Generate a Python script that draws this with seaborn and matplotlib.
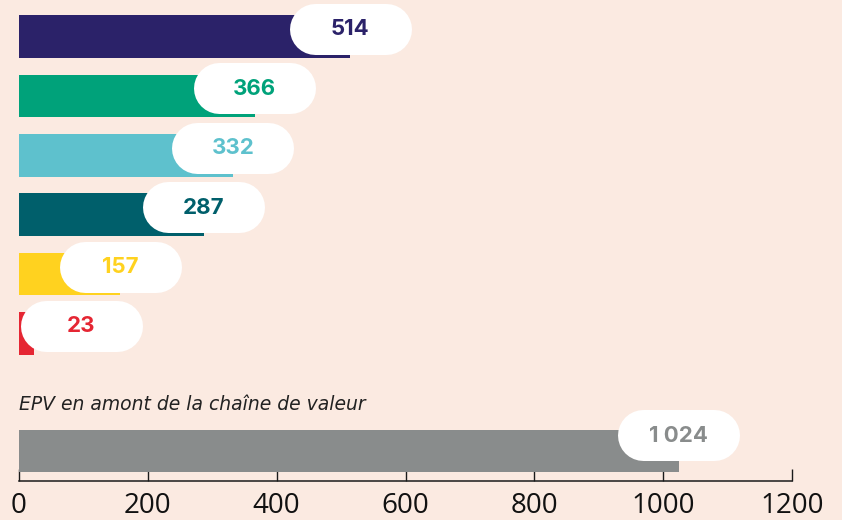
import matplotlib
matplotlib.use("Agg")
import matplotlib.pyplot as plt
from matplotlib.lines import Line2D
from matplotlib.transforms import IdentityTransform
import pandas as pd
import seaborn as sns

# Values per segment (top block) and the upstream total (bottom bar)
segments = ["s1", "s2", "s3", "s4", "s5", "s6"]
values = [514, 366, 332, 287, 157, 23]
colors = ["#2B2269", "#00A27A", "#5EC1CD", "#005F6B", "#FFD21F", "#E52633"]

upstream_label = "EPV en amont de la chaîne de valeur"
upstream_value = [1024]
upstream_color = ["#898C8C"]

x_ticks = [0, 200, 400, 600, 800, 1000, 1200]

BG = "#FBEAE1"
W, H, DPI = 842, 520, 100

sns.set_theme(style="white")
plt.rcParams["font.family"] = ["Open Sans", "DejaVu Sans"]

fig = plt.figure(figsize=(W / DPI, H / DPI), dpi=DPI, facecolor=BG)

left_px, right_px = 19, 792
pitch = 59.4


def px_axes(top_px, bottom_px):
    return fig.add_axes([left_px / W, 1 - bottom_px / H,
                         (right_px - left_px) / W, (bottom_px - top_px) / H])


# Top block of bars
top_c, bot_c = 36.5, 333.5
ax1 = px_axes(top_c - pitch / 2, bot_c + pitch / 2)
df1 = pd.DataFrame({"segment": segments, "value": values})
sns.barplot(data=df1, x="value", y="segment", hue="segment", palette=colors,
            orient="h", width=0.72, legend=False, ax=ax1, saturation=1,
            linewidth=0)
ax1.set_xlim(0, 1200)
ax1.set_ylim(len(segments) - 0.5, -0.5)
ax1.axis("off")

# Bottom bar with the value axis
bar_c, axis_px = 451, 481
ax2 = px_axes(bar_c - (axis_px - bar_c), axis_px)
df2 = pd.DataFrame({"segment": [upstream_label], "value": upstream_value})
sns.barplot(data=df2, x="value", y="segment", hue="segment", palette=upstream_color,
            orient="h", width=0.72, legend=False, ax=ax2, saturation=1,
            linewidth=0)
ax2.set_xlim(0, 1200)
half = (axis_px - bar_c) / pitch
ax2.set_ylim(half, -half)
ax2.set_facecolor("none")
for s in ["top", "left", "right"]:
    ax2.spines[s].set_visible(False)
ax2.spines["bottom"].set_color("#1a1a1a")
ax2.spines["bottom"].set_linewidth(1.1)
ax2.set_yticks([])
ax2.set_ylabel("")
ax2.set_xlabel("")
ax2.set_xticks(x_ticks)
ax2.set_xticklabels([str(t) for t in x_ticks])
ax2.tick_params(axis="x", direction="in", length=8.5, width=1.0, color="#1a1a1a",
                pad=8, labelsize=20, labelcolor="#111111", bottom=True)

fig.text(left_px / W, 1 - 410.5 / H, upstream_label, fontsize=13.5,
         style="italic", color="#222222", va="baseline", ha="left",
         family=["DejaVu Sans"])

# Rounded value pills at the end of each bar
PILL_W, PILL_H = 122, 51


def pill(ax, value, ypos, color, text, lift):
    xd, yd = ax.transData.transform((value, ypos))
    x0d, _ = ax.transData.transform((0, ypos))
    cx = max(xd, x0d + 1 + PILL_W / 2)
    cy = yd + lift
    r = PILL_H / 2
    cap = Line2D([cx - PILL_W / 2 + r, cx + PILL_W / 2 - r], [cy, cy],
                 transform=IdentityTransform(), color="white",
                 linewidth=PILL_H * 72 / DPI, solid_capstyle="round", zorder=5)
    fig.lines.append(cap)
    cap.set_figure(fig)
    fig.text(cx / W, (cy + 1.5) / H, text, ha="center", va="center_baseline",
             fontsize=16, fontweight="bold", color=color, zorder=6,
             family=["Inter", "Open Sans", "DejaVu Sans"])


for i, (v, c) in enumerate(zip(values, colors)):
    pill(ax1, v, i, c, f"{v:,}".replace(",", " "), lift=7.5)
for v, c in zip(upstream_value, upstream_color):
    pill(ax2, v, 0, c, f"{v:,}".replace(",", " "), lift=16)

fig.savefig("out.png", dpi=DPI, facecolor=BG)
